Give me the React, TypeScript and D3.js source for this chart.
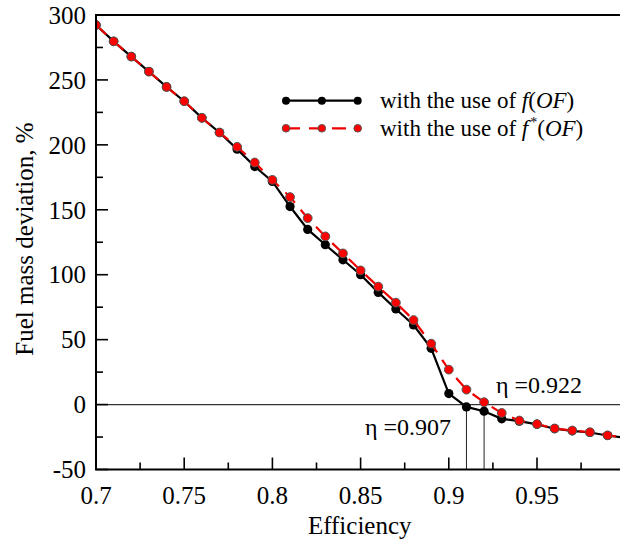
import React from "react";
import * as d3 from "d3";

const efficiency = [0.70, 0.71, 0.72, 0.73, 0.74, 0.75, 0.76, 0.77, 0.78, 0.79, 0.80, 0.81, 0.82, 0.83, 0.84, 0.85, 0.86, 0.87, 0.88, 0.89, 0.90, 0.91, 0.92, 0.93, 0.94, 0.95, 0.96, 0.97, 0.98, 0.99, 1.00];
const deviationF = [292.3, 279.7, 268, 256.4, 244.6, 233.6, 220.8, 209.5, 196.7, 183.3, 171.8, 152.5, 134.9, 123.1, 111.5, 100, 86.4, 73.6, 61.3, 43.3, 8.5, -1.8, -5.1, -11, -12.8, -15.2, -18.6, -20.2, -21.5, -23.8, -25.5];
const deviationFStar = [292.3, 279.7, 268, 256.4, 244.6, 233.6, 220.8, 209.5, 198.5, 186.4, 173, 159.8, 143.6, 129.5, 116.4, 103.3, 90.8, 78.5, 65.1, 46.9, 26.9, 11.5, 1.8, -6.5, -12.3, -15, -18.4, -20, -21.3, -23.7, -25.5];
const xTicks = [0.7, 0.75, 0.8, 0.85, 0.9, 0.95];
const xTickLabels = ["0.7", "0.75", "0.8", "0.85", "0.9", "0.95"];
const yTicks = [-50, 0, 50, 100, 150, 200, 250, 300];
const markedEfficiencies = [0.91, 0.92];
const annotations = ["η =0.907", "η =0.922"];

const FONT = "'Liberation Serif', 'Times New Roman', serif";

export default function App() {
  const W = 620, H = 540;
  const left = 96, top = 15, bottom = 469.5;
  const x = d3.scaleLinear().domain([0.7, 1.0]).range([left, left + 0.3 * 1764]);
  const y = d3.scaleLinear().domain([-50, 300]).range([bottom, top]);

  const pts = (vals: number[]) => efficiency.map((e, i) => [e, vals[i]] as [number, number]);
  const line = d3.line<[number, number]>().x(d => x(d[0])).y(d => y(d[1]));

  const xMinor = d3.range(0.725, 1.0, 0.05);
  const yMinor = d3.range(-25, 300, 50);
  const rightEdge = W + 10;

  const legendX0 = 286, legendX1 = 357.7;
  const legendY = [100.7, 128.3];

  const idx0 = efficiency.findIndex(e => Math.abs(e - markedEfficiencies[0]) < 1e-9);
  const idx1 = efficiency.findIndex(e => Math.abs(e - markedEfficiencies[1]) < 1e-9);

  return (
    <svg width={W} height={H} style={{ position: "absolute", left: 0, top: 0, background: "#fff" }} fontFamily={FONT}>
      <defs>
        <clipPath id="plot">
          <rect x={left} y={top - 10} width={W - left} height={bottom - top + 20} />
        </clipPath>
      </defs>
      {/* zero line */}
      <line x1={left} x2={rightEdge} y1={y(0)} y2={y(0)} stroke="#333" strokeWidth={1.3} />
      {/* vertical marker lines */}
      {[idx0, idx1].map((i, k) => (
        <line key={k} x1={x(efficiency[i])} x2={x(efficiency[i])} y1={y(deviationF[i])} y2={bottom} stroke="#222" strokeWidth={1} />
      ))}
      <g clipPath="url(#plot)">
        <path d={line(pts(deviationF)) || ""} fill="none" stroke="#000" strokeWidth={2.2} />
        {pts(deviationF).map((d, i) => (
          <circle key={"b" + i} cx={x(d[0])} cy={y(d[1])} r={4.6} fill="#000" />
        ))}
        <path d={line(pts(deviationFStar)) || ""} fill="none" stroke="#ee0000" strokeWidth={2.2} strokeDasharray="14,9" />
        {pts(deviationFStar).map((d, i) => (
          <circle key={"r" + i} cx={x(d[0])} cy={y(d[1])} r={4.4} fill="#ff0000" stroke="#555" strokeWidth={1} />
        ))}
      </g>
      {/* axes */}
      <line x1={left} x2={left} y1={top} y2={bottom} stroke="#000" strokeWidth={2} />
      <line x1={left - 1} x2={rightEdge} y1={bottom} y2={bottom} stroke="#000" strokeWidth={2} />
      <line x1={left - 1} x2={rightEdge} y1={top} y2={top} stroke="#000" strokeWidth={2} />
      {yTicks.map(t => (
        <g key={"yt" + t}>
          <line x1={left} x2={left + 12} y1={y(t)} y2={y(t)} stroke="#000" strokeWidth={1.6} />
          <text x={86} y={y(t)} dy="0.35em" textAnchor="end" fontSize={25}>{t}</text>
        </g>
      ))}
      {yMinor.map(t => (
        <line key={"ym" + t} x1={left} x2={left + 7} y1={y(t)} y2={y(t)} stroke="#000" strokeWidth={1.6} />
      ))}
      {xTicks.map((t, i) => (
        <g key={"xt" + t}>
          <line x1={x(t)} x2={x(t)} y1={bottom} y2={bottom - 12} stroke="#000" strokeWidth={1.6} />
          <text x={x(t)} y={504} textAnchor="middle" fontSize={25}>{xTickLabels[i]}</text>
        </g>
      ))}
      {xMinor.map(t => (
        <line key={"xm" + t} x1={x(t)} x2={x(t)} y1={bottom} y2={bottom - 7} stroke="#000" strokeWidth={1.6} />
      ))}
      <text x={x(0.8495)} y={534} textAnchor="middle" fontSize={25}>Efficiency</text>
      <text transform={`translate(33,239) rotate(-90)`} textAnchor="middle" fontSize={25}>Fuel mass deviation, %</text>
      {/* annotations */}
      <text x={365} y={435} fontSize={24}>{annotations[0]}</text>
      <text x={496} y={393} fontSize={24}>{annotations[1]}</text>
      {/* legend */}
      <line x1={legendX0} x2={legendX1} y1={legendY[0]} y2={legendY[0]} stroke="#000" strokeWidth={2.2} />
      {[legendX0, (legendX0 + legendX1) / 2, legendX1].map((lx, i) => (
        <circle key={"lb" + i} cx={lx} cy={legendY[0]} r={4} fill="#000" />
      ))}
      <line x1={legendX0} x2={legendX1} y1={legendY[1]} y2={legendY[1]} stroke="#ee0000" strokeWidth={2.2} strokeDasharray="14,9" />
      {[legendX0, (legendX0 + legendX1) / 2, legendX1].map((lx, i) => (
        <circle key={"lr" + i} cx={lx} cy={legendY[1]} r={3.8} fill="#ff0000" stroke="#555" strokeWidth={1} />
      ))}
      <text x={380} y={legendY[0] + 7.5} fontSize={23}>
        with the use of <tspan fontStyle="italic">f</tspan>(<tspan fontStyle="italic">OF</tspan>)
      </text>
      <text x={380} y={legendY[1] + 7.5} fontSize={23}>
        with the use of <tspan fontStyle="italic">f</tspan><tspan fontSize={14} dx={2} dy={-9}>*</tspan><tspan dy={9}>(</tspan><tspan fontStyle="italic">OF</tspan>)
      </text>
    </svg>
  );
}
